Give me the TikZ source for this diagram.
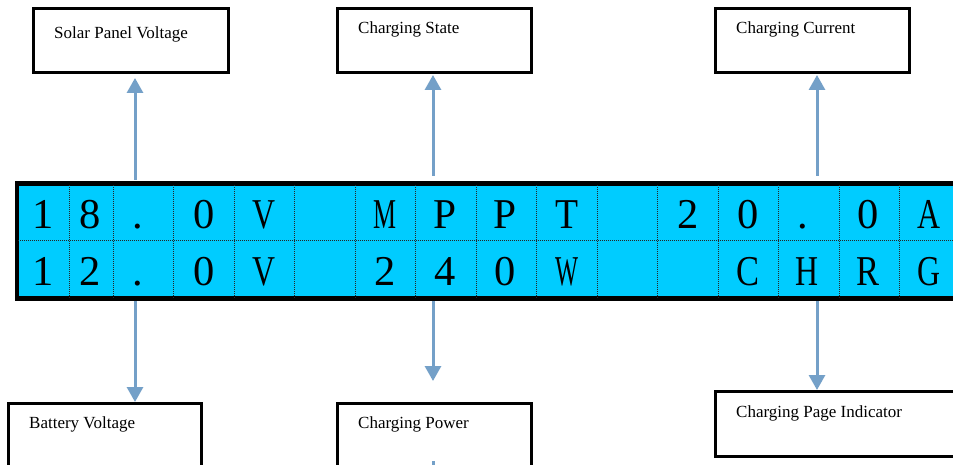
\documentclass[tikz,border=0pt]{standalone}
\usepackage{fontspec}
\setmainfont{Liberation Serif}
\usetikzlibrary{arrows.meta,calc}
\definecolor{lcdcyan}{RGB}{0,204,255}
\definecolor{arrblue}{RGB}{116,160,200}
\newcommand{\lcdlet}[1]{\resizebox{23pt}{\height}{#1}}
\begin{document}
\begin{tikzpicture}[x=1pt,y=-1pt,
  box/.style={draw=black,line width=3pt,inner sep=0pt,anchor=north west},
  lbl/.style={anchor=west,inner sep=0pt,font=\fontsize{17}{20}\selectfont},
  arr/.style={draw=arrblue,line width=3pt,-{Triangle[width=16pt,length=15pt]}},
  cellsep/.style={draw=black!85,line width=0.9pt,dash pattern=on 1pt off 1pt},
  lcdch/.style={anchor=base,inner sep=0pt,font=\fontsize{42.5}{44}\selectfont}]
\clip (0,0) rectangle (953,465);
\fill[white] (0,0) rectangle (953,465);
% LCD
\node[box,fill=lcdcyan,minimum width=950pt,minimum height=113pt] (lcd) at (16,183) {};
\foreach \x in {69,113,173,234,294,355,415,476,536,597,657,718,778,839,899}
  \draw[cellsep] (\x,183) -- (\x,300);
\draw[cellsep] (16,240) -- (953,240);
\draw[line width=3pt] (lcd.north west) rectangle (lcd.south east);
% characters, row 1
\foreach \c/\x [count=\i] in {1/43,8/90,./138,0/204,2/688,0/748,./803,0/868}
  \node[lcdch] (ra\i) at (\x,229) {\c};
\foreach \c/\x [count=\i] in {V/264,M/385,P/445,P/505,T/567,A/929}
  \node[lcdch] (rl\i) at (\x,229) {\lcdlet{\c}};
% characters, row 2
\foreach \c/\x [count=\i] in {1/43,2/90,./138,0/204,2/385,4/445,0/505}
  \node[lcdch] (rb\i) at (\x,285) {\c};
\foreach \c/\x [count=\i] in {V/264,W/567,C/748,H/807,R/868,G/929}
  \node[lcdch] (rm\i) at (\x,285) {\lcdlet{\c}};
% boxes top
\node[box,minimum width=195pt,minimum height=64pt] (spv) at (32,7) {};
\node[lbl] (spvt) at ($(spv.north west)+(22,27)$) {Solar Panel Voltage};
\node[box,minimum width=194pt,minimum height=64pt] (cs) at (336,7) {};
\node[lbl] (cst) at ($(cs.north west)+(22,22)$) {Charging State};
\node[box,minimum width=194pt,minimum height=64pt] (cc) at (714,7) {};
\node[lbl] (cct) at ($(cc.north west)+(22,22)$) {Charging Current};
% boxes bottom
\node[box,minimum width=193pt,minimum height=80pt] (bv) at (7,402) {};
\node[lbl] (bvt) at ($(bv.north west)+(22,22)$) {Battery Voltage};
\node[box,minimum width=194pt,minimum height=80pt] (cp) at (336,402) {};
\node[lbl] (cpt) at ($(cp.north west)+(22,22)$) {Charging Power};
\node[box,minimum width=260pt,minimum height=65pt] (cpi) at (714,390) {};
\node[lbl] (cpit) at ($(cpi.north west)+(22,23)$) {Charging Page Indicator};
% arrow columns
\coordinate (a1) at (135,0);
\coordinate (a2) at (433,0);
\coordinate (a3) at (817,0);
% up arrows
\draw[arr] ([yshift=3pt]lcd.north -| a1) -- ([yshift=-4pt]spv.south -| a1);
\draw[arr] ([yshift=7pt]lcd.north -| a2) -- ([yshift=-1pt]cs.south -| a2);
\draw[arr] ([yshift=7pt]lcd.north -| a3) -- ([yshift=-1pt]cc.south -| a3);
% down arrows
\draw[arr] ([yshift=-2pt]lcd.south -| a1) -- (bv.north -| a1);
\draw[arr] ([yshift=-2pt]lcd.south -| a2) -- ([yshift=21pt]cp.north -| a2);
\draw[arr] ([yshift=-2pt]lcd.south -| a3) -- (cpi.north -| a3);
% stub inside Charging Power box
\coordinate (stub) at ($(cp.north -| a2)+(0,59)$);
\draw[draw=arrblue,line width=3pt] (stub) -- ++(0,10);
\end{tikzpicture}
\end{document}
